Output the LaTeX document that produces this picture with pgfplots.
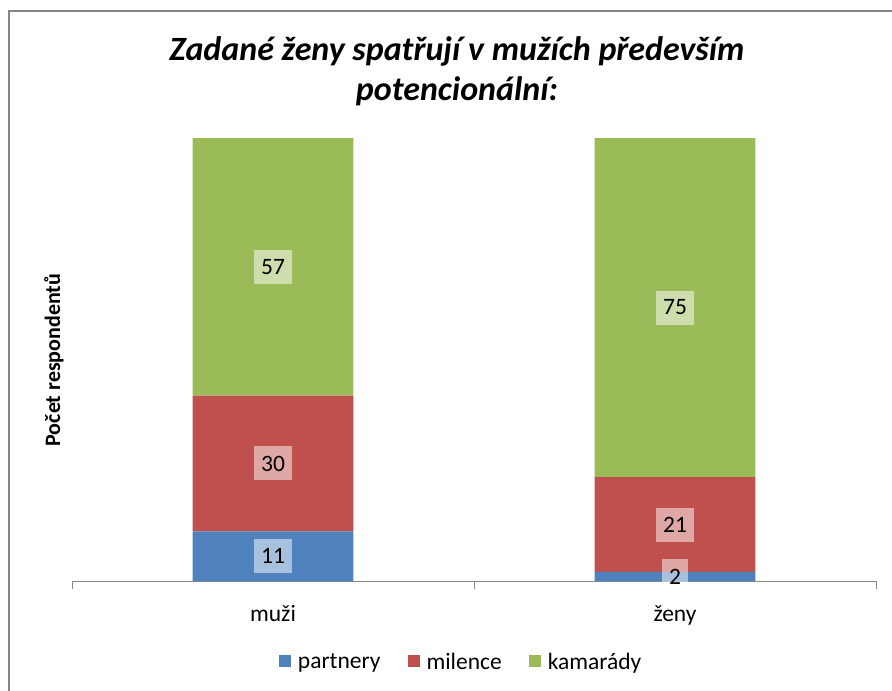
\documentclass[border=0pt]{standalone}
\usepackage{pgfplots}
\pgfplotsset{compat=1.18}
\usepackage{fontspec}
\setmainfont{Carlito}
\definecolor{cblue}{HTML}{4F81BD}
\definecolor{cred}{HTML}{C0504D}
\definecolor{cgreen}{HTML}{9BBB59}
\definecolor{cgray}{HTML}{868686}
\begin{document}
\begin{tikzpicture}
\path[use as bounding box] (0pt,0pt) rectangle (892pt,-691pt);
\draw[cgray, line width=2.5pt] (9pt,-692pt) -- (9pt,-11pt) -- (893pt,-11pt);
\node[align=center, font=\fontsize{34}{40}\selectfont\bfseries\itshape] at (457pt,-71pt) {Zadané ženy spatřují v mužích především\\potencionální:};
\node[rotate=90, font=\fontsize{22}{26}\selectfont\bfseries] at (54pt,-360pt) {Počet respondentů};
\begin{axis}[
  at={(72pt,-581pt)}, anchor=south west,
  scale only axis, width=804pt, height=443pt,
  ybar stacked, bar width=0.4,
  xmin=-0.5, xmax=1.5, ymin=0, ymax=98,
  clip=false,
  axis y line=none, axis x line=bottom,
  x axis line style={-, draw=cgray, line width=1pt},
  xtick={-0.5,0.5,1.5}, xticklabels={},
  tick align=outside, major tick length=8pt,
  tick style={draw=cgray, line width=1pt},
  extra x ticks={0,1}, extra x tick labels={muži,ženy},
  extra x tick style={major tick length=0pt, xticklabel style={anchor=base, yshift=-40pt}},
  ticklabel style={font=\fontsize{23.5}{28}\selectfont, text=black},
  /pgf/number format/assume math mode=true,
  point meta=rawy,
  nodes near coords,
  nodes near coords style={font=\fontsize{23.5}{28}\selectfont, text=black, fill=white, fill opacity=0.5, text opacity=1, inner xsep=7pt, inner ysep=0pt, minimum height=34pt, anchor=center},
  legend style={draw=none, fill=none, at={(0.484,-0.183)}, anchor=center, legend columns=3, font=\fontsize{23.5}{28}\selectfont, /tikz/every odd column/.append style={column sep=5pt}, /tikz/every even column/.append style={column sep=25pt}},
  legend image code/.code={\fill[#1] (0pt,-5pt) rectangle (12pt,7pt);},
]
\addplot[fill=cblue, draw=none] coordinates {(0,11) (1,2)};
\addplot[fill=cred, draw=none] coordinates {(0,30) (1,21)};
\addplot[fill=cgreen, draw=none] coordinates {(0,57) (1,75)};
\legend{partnery, milence, kamarády}
\end{axis}
\end{tikzpicture}
\end{document}
